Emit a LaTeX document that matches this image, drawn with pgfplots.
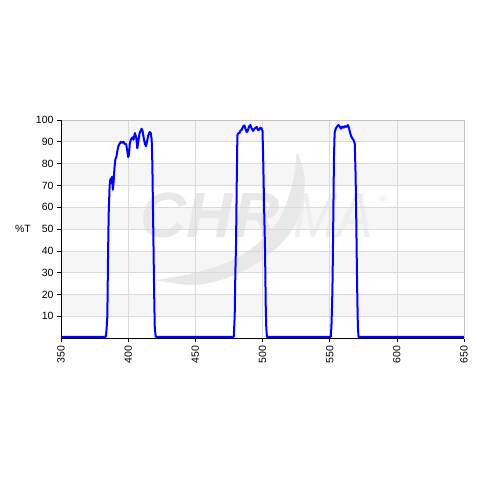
\documentclass[border=0pt]{standalone}
\usepackage{fontspec}
\setmainfont{Liberation Sans}
\usepackage{pgfplots}
\pgfplotsset{compat=1.18}
\definecolor{gridc}{HTML}{DADADA}
\definecolor{bandc}{HTML}{F6F6F6}
\definecolor{wmc}{HTML}{E8E8E8}
\definecolor{wmc2}{HTML}{EEEEEE}
\begin{document}
\begin{tikzpicture}
\begin{axis}[
  set layers,
  scale only axis,
  width=403pt, height=218pt,
  xmin=350, xmax=650, ymin=0, ymax=100,
  xtick={350,400,...,650},
  ytick={10,20,...,100},
  grid=major,
  major grid style={gridc, line width=0.6pt},
  axis line style={gridc!90!black, line width=0.8pt},
  tick align=outside,
  major tick length=4pt,
  tick style={black, line width=0.6pt},
  xtick pos=bottom, ytick pos=left,
  font=\fontsize{10.5}{12}\selectfont,
  /pgf/number format/assume math mode=true,
  /pgf/number format/1000 sep={},
  xticklabel style={rotate=90, anchor=east, xshift=0pt},
  yticklabel style={anchor=east},
  ylabel={\%T},
  every axis y label/.style={at={(axis description cs:0,0.5)}, anchor=center, xshift=-38pt},
  clip=false,
]
\pgfplotsextra{%
\begin{pgfonlayer}{axis background}
  \fill[white] (axis cs:350,0) rectangle (axis cs:650,100);
  \fill[bandc] (axis cs:350,10) rectangle (axis cs:650,20);
  \fill[bandc] (axis cs:350,30) rectangle (axis cs:650,40);
  \fill[bandc] (axis cs:350,50) rectangle (axis cs:650,60);
  \fill[bandc] (axis cs:350,70) rectangle (axis cs:650,80);
  \fill[bandc] (axis cs:350,90) rectangle (axis cs:650,100);
  \node[wmc, inner sep=0pt, font=\fontsize{64}{64}\selectfont\bfseries\itshape] at (axis cs:461,56.4) {CHR};
  \node[wmc2, inner sep=0pt, font=\fontsize{64}{64}\selectfont\itshape, xscale=0.83] at (axis cs:552.5,56.4) {MA};
  \node[wmc, inner sep=0pt, font=\fontsize{11}{11}\selectfont] at (axis cs:589.7,63.3) {®};
  \fill[wmc] plot[smooth, tension=0.6] coordinates {(526.4,84.5) (531.5,70.2) (521.5,49) (491,32.5) (453.5,24.5) (420.5,26.6)}
     -- plot[smooth, tension=0.6] coordinates {(420.5,26.6) (453.5,30.5) (486,38.5) (511,53) (522,70.2) (525.4,84.5)} -- cycle;
\end{pgfonlayer}}
\draw[black, line width=0.8pt] (rel axis cs:0,0) -- (rel axis cs:0,1);
\draw[black, line width=0.8pt] (rel axis cs:0,0) -- (rel axis cs:1,0);
\addplot[blue, line width=2pt, line join=round] coordinates {
(350,0.5) (383.3,0.5) (383.8,3) (384.5,10) (385.0,37) (385.5,57) (386.2,70) (386.8,73)
(387.5,71) (388.0,74) (388.6,68) (389.2,72) (389.8,78) (390.5,82) (391.2,83) (392.0,86)
(392.7,88) (393.5,89) (394.5,90) (395.5,89.5) (396.5,90) (397.5,89) (398.5,89) (399.3,86)
(400.0,83) (400.6,84) (401.2,89) (402.0,91) (403.0,92) (404.0,91) (405.0,94) (406.0,92)
(406.8,87) (407.5,90) (408.5,94) (409.3,95) (410.0,96) (410.7,95) (411.5,92) (412.5,89)
(413.3,88) (414.0,90) (415.0,93) (416.0,94.5) (416.8,94) (417.5,91) (418.0,80) (418.6,54)
(419.3,22) (419.8,5) (420.5,0.5)
(478.6,0.5) (479.3,10) (479.8,30) (480.3,43) (480.8,70) (481.3,93) (482.0,94) (482.8,94)
(483.5,95) (484.5,95.5) (485.5,97) (486.5,97.5) (487.3,96) (488.2,94.5) (489.0,95) (490.0,97)
(491.0,97.7) (492.0,96) (493.0,95) (494.0,96) (495.0,96.5) (495.7,96.8) (496.5,95.5) (497.5,95.5)
(498.5,96.5) (499.3,96) (500.0,95) (500.5,83) (501.2,60) (501.9,40) (502.4,15) (502.8,5) (503.3,0.5)
(550.8,0.5) (551.3,5) (551.8,15) (552.2,28) (552.7,55) (553.2,83) (553.7,94) (554.5,96)
(555.5,97) (556.5,97.7) (557.5,97) (558.5,96) (559.5,97) (560.5,96.5) (561.4,97.2) (562.5,96.8)
(563.6,97.7) (564.5,96) (565.3,94) (566.0,92.5) (567.0,91.5) (568.0,90.5) (568.7,89) (569.3,75)
(569.7,59) (570.2,35) (570.6,18) (571.0,5) (571.5,0.5) (650,0.5)
};
\end{axis}
\path (-61pt,-142pt) rectangle (419pt,338pt);
\end{tikzpicture}
\end{document}
